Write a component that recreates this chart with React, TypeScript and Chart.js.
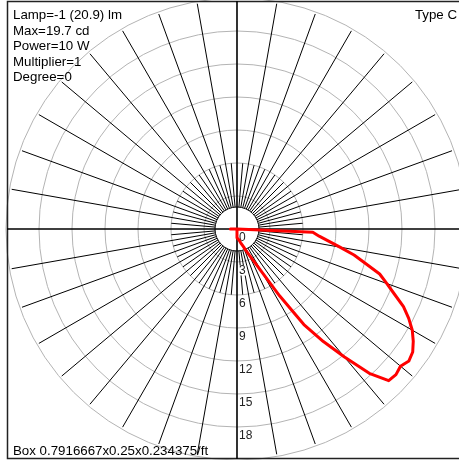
import { useEffect, useRef } from "react";
import { Chart, registerables } from "chart.js";

Chart.register(...registerables);

// Polar candela curve: gamma angle (deg, 0 = nadir, + toward right) and intensity (cd)
const gammaAngles = [-90, -45, 0, 5, 10, 15, 20, 22.5, 25, 27.5, 30, 32.5, 35, 37.5, 40, 42.5, 45, 47.5, 50, 52.5, 55, 57.5, 60, 62.5, 65, 67.5, 70, 72.5, 75, 77.5, 80, 82.5, 85, 87.5, 90];
const intensities = [0.6, 0, 0.8, 0.9, 1.0, 1.3, 1.7, 2.1, 2.6, 3.3, 4.5, 7.2, 10.6, 12.9, 15.2, 17.8, 19.5, 19.6, 19.4, 19.7, 19.5, 19.0, 18.4, 17.6, 16.7, 15.5, 14.5, 13.6, 12.1, 10.9, 9.5, 8.4, 7.5, 6.9, 0];

// Grid
const ringValues = [3, 6, 9, 12, 15, 18, 21];
const ringTickValues = [0, 3, 6, 9, 12, 15, 18];
const ringTickLabels = ["0", "3", "6", "9", "12", "15", "18"];
const innerCircleValue = 2;
const longSpokeEnd = 20.8;
const shortSpokeEnd = 6;
const spokeStepDeg = 5;

// Info texts
const infoLines = ["Lamp=-1 (20.9) lm", "Max=19.7 cd", "Power=10 W", "Multiplier=1", "Degree=0"];
const typeText = "Type C";
const boxText = "Box 0.7916667x0.25x0.234375/ft";

// Axis ranges (cd)
const xRange = [-21.545, 20.182];
const yRange = [-21.0, 20.818];

const FONT = '"Liberation Sans", Arial, sans-serif';

const gridPlugin = {
  id: "photometricGrid",
  beforeDatasetsDraw(chart: any) {
    const { ctx, scales, width, height } = chart;
    const xs = scales.x;
    const ys = scales.y;
    const cx = xs.getPixelForValue(0);
    const cy = ys.getPixelForValue(0);
    const unit = xs.getPixelForValue(1) - cx;
    ctx.save();
    ctx.fillStyle = "#ffffff";
    ctx.fillRect(0, 0, width, height);

    // rings
    ctx.strokeStyle = "#b4b4b4";
    ctx.lineWidth = 1;
    for (const r of ringValues) {
      ctx.beginPath();
      ctx.arc(cx, cy, r * unit, 0, Math.PI * 2);
      ctx.stroke();
    }

    // spokes
    ctx.strokeStyle = "#000000";
    ctx.lineWidth = 1;
    for (let a = 0; a < 360; a += spokeStepDeg) {
      if (a % 90 === 0) continue;
      const end = a % 10 === 0 ? longSpokeEnd : shortSpokeEnd;
      const rad = (a * Math.PI) / 180;
      const sx = Math.sin(rad);
      const sy = Math.cos(rad);
      ctx.beginPath();
      ctx.moveTo(cx + sx * innerCircleValue * unit, cy + sy * innerCircleValue * unit);
      ctx.lineTo(cx + sx * end * unit, cy + sy * end * unit);
      ctx.stroke();
    }

    // inner disk
    ctx.beginPath();
    ctx.arc(cx, cy, innerCircleValue * unit, 0, Math.PI * 2);
    ctx.fillStyle = "#ffffff";
    ctx.fill();
    ctx.strokeStyle = "#000000";
    ctx.lineWidth = 1;
    ctx.stroke();

    // frame
    ctx.strokeStyle = "#222222";
    ctx.lineWidth = 1.5;
    ctx.strokeRect(7.5, 1.5, width + 20, height - 3);

    // axes
    ctx.strokeStyle = "#000000";
    ctx.lineWidth = 1.6;
    ctx.beginPath();
    ctx.moveTo(cx, 1);
    ctx.lineTo(cx, height - 1);
    ctx.moveTo(7, cy);
    ctx.lineTo(width, cy);
    ctx.stroke();

    // ring labels (with white backing)
    ctx.font = `12px ${FONT}`;
    ctx.textAlign = "left";
    ctx.textBaseline = "alphabetic";
    ringTickValues.forEach((v, i) => {
      const y = ys.getPixelForValue(-v);
      const w = ctx.measureText(ringTickLabels[i]).width;
      if (v > 0) {
        ctx.fillStyle = "#ffffff";
        ctx.fillRect(cx + 1.5, y + 3.5, w + 1, 10);
      }
      ctx.fillStyle = "#222222";
      ctx.fillText(ringTickLabels[i], cx + 2, y + 12.5);
    });

    // info text
    ctx.fillStyle = "#000000";
    ctx.font = `13.3px ${FONT}`;
    infoLines.forEach((t, i) => {
      ctx.fillText(t, 13, 19 + i * 15.5);
    });
    ctx.textAlign = "right";
    ctx.fillText(typeText, 457, 18.5);
    ctx.textAlign = "left";
    ctx.fillText(boxText, 13, 455);
    ctx.restore();
  },
};

export default function App() {
  const canvasRef = useRef<HTMLCanvasElement | null>(null);

  useEffect(() => {
    const canvas = canvasRef.current;
    if (!canvas) return;
    const points = gammaAngles.map((g, i) => {
      const rad = (g * Math.PI) / 180;
      return { x: intensities[i] * Math.sin(rad), y: -intensities[i] * Math.cos(rad) };
    });
    const chart = new Chart(canvas, {
      type: "scatter",
      data: {
        datasets: [
          {
            label: "C0-C180",
            data: points,
            showLine: true,
            borderColor: "#ff0000",
            borderWidth: 3,
            pointRadius: 0,
            tension: 0,
            fill: false,
            borderJoinStyle: "round",
            borderCapStyle: "round",
          } as any,
        ],
      },
      options: {
        animation: false,
        responsive: false,
        devicePixelRatio: 1,
        layout: { padding: 0 },
        plugins: { legend: { display: false }, tooltip: { enabled: false } },
        scales: {
          x: { type: "linear", min: xRange[0], max: xRange[1], display: false },
          y: { type: "linear", min: yRange[0], max: yRange[1], display: false },
        },
      },
      plugins: [gridPlugin],
    });
    return () => chart.destroy();
  }, []);

  return (
    <div style={{ position: "fixed", left: 0, top: 0, width: 459, height: 460, background: "#fff" }}>
      <canvas ref={canvasRef} width={459} height={460} style={{ display: "block" }} />
    </div>
  );
}
